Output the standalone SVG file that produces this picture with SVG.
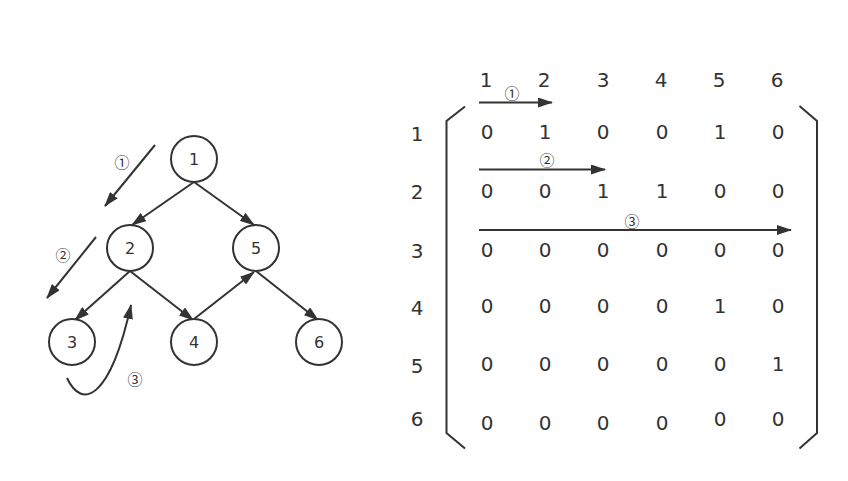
<svg xmlns="http://www.w3.org/2000/svg" width="848" height="481" viewBox="0 0 848 481">
<defs>
<marker id="ah" markerUnits="userSpaceOnUse" markerWidth="15" markerHeight="10" refX="14" refY="5" orient="auto">
<path d="M0,0 L15,5 L0,10 z" fill="#333"/>
</marker>
<style>
.n circle{fill:#fff;stroke:#333;stroke-width:2}
.n text{font-family:"DejaVu Sans",sans-serif;font-size:16px;fill:#333;text-anchor:middle}
.e{stroke:#333;stroke-width:2;fill:none;marker-end:url(#ah)}
.m{font-family:"DejaVu Sans",sans-serif;font-size:20px;fill:#333;text-anchor:middle}
.c{font-family:"Noto Sans CJK SC","DejaVu Sans",sans-serif;font-size:15px;fill:#333;text-anchor:middle}
.b{stroke:#333;stroke-width:2;fill:none}
</style>
</defs>
<rect width="848" height="481" fill="#fff"/>
<g id="connectors">
<line class="e" x1="194" y1="182" x2="132" y2="225"/>
<line class="e" x1="194" y1="182" x2="254" y2="225"/>
<line class="e" x1="130" y1="271" x2="75" y2="320"/>
<line class="e" x1="130" y1="271" x2="193" y2="320"/>
<line class="e" x1="194" y1="319" x2="254" y2="272"/>
<line class="e" x1="256" y1="271" x2="318" y2="320"/>
<line class="e" x1="155" y1="145" x2="105" y2="206"/>
<line class="e" x1="96" y1="237" x2="47" y2="298"/>
<path class="e" d="M67,378 C82,410 110,400 131,305"/>
<line class="e" x1="479" y1="102.5" x2="552" y2="102.5"/>
<line class="e" x1="479" y1="169.5" x2="605" y2="169.5"/>
<line class="e" x1="479" y1="230" x2="791" y2="230"/>
</g>
<g id="node1" class="n"><circle cx="194" cy="159" r="23"/><text x="194" y="165">1</text></g>
<g id="node2" class="n"><circle cx="130" cy="248" r="23"/><text x="130" y="254">2</text></g>
<g id="node5" class="n"><circle cx="256" cy="248" r="23"/><text x="256" y="254">5</text></g>
<g id="node3" class="n"><circle cx="72" cy="342" r="23"/><text x="72" y="348">3</text></g>
<g id="node4" class="n"><circle cx="194" cy="342" r="23"/><text x="194" y="348">4</text></g>
<g id="node6" class="n"><circle cx="319" cy="342" r="23"/><text x="319" y="348">6</text></g>
<g id="labels">
<text class="c" x="122" y="168">①</text>
<text class="c" x="63" y="261">②</text>
<text class="c" x="135" y="385">③</text>
<text class="c" x="512" y="99">①</text>
<text class="c" x="547" y="166">②</text>
<text class="c" x="632" y="227">③</text>
</g>
<g id="matrix">
<path class="b" d="M465,106.5 L446.5,121 L446.5,433 L465,448.5"/>
<path class="b" d="M799.5,106 L817,121 L817,433 L799.5,448.5"/>
<g class="m">
<text x="486" y="86.5">1</text><text x="544" y="86.5">2</text><text x="603" y="86.5">3</text><text x="661" y="86.5">4</text><text x="719" y="86.5">5</text><text x="777" y="86.5">6</text>
<text x="417" y="141">1</text><text x="417" y="199">2</text><text x="417" y="257.5">3</text><text x="417" y="315">4</text><text x="417" y="372.5">5</text><text x="417" y="425.5">6</text>
<text x="487" y="139">0</text><text x="545" y="139">1</text><text x="603" y="139">0</text><text x="662" y="139">0</text><text x="720" y="139">1</text><text x="778" y="139">0</text>
<text x="487" y="197.5">0</text><text x="545" y="197.5">0</text><text x="603" y="197.5">1</text><text x="662" y="197.5">1</text><text x="720" y="197.5">0</text><text x="778" y="197.5">0</text>
<text x="487" y="256.5">0</text><text x="545" y="256.5">0</text><text x="603" y="256.5">0</text><text x="662" y="256.5">0</text><text x="720" y="256.5">0</text><text x="778" y="256.5">0</text>
<text x="487" y="313">0</text><text x="545" y="313">0</text><text x="603" y="313">0</text><text x="662" y="313">0</text><text x="720" y="313">1</text><text x="778" y="313">0</text>
<text x="487" y="371">0</text><text x="545" y="371">0</text><text x="603" y="371">0</text><text x="662" y="371">0</text><text x="720" y="371">0</text><text x="778" y="371">1</text>
<text x="487" y="430">0</text><text x="545" y="430">0</text><text x="603" y="430">0</text><text x="662" y="430">0</text><text x="720" y="426">0</text><text x="778" y="426">0</text>
</g>
</g>
</svg>
